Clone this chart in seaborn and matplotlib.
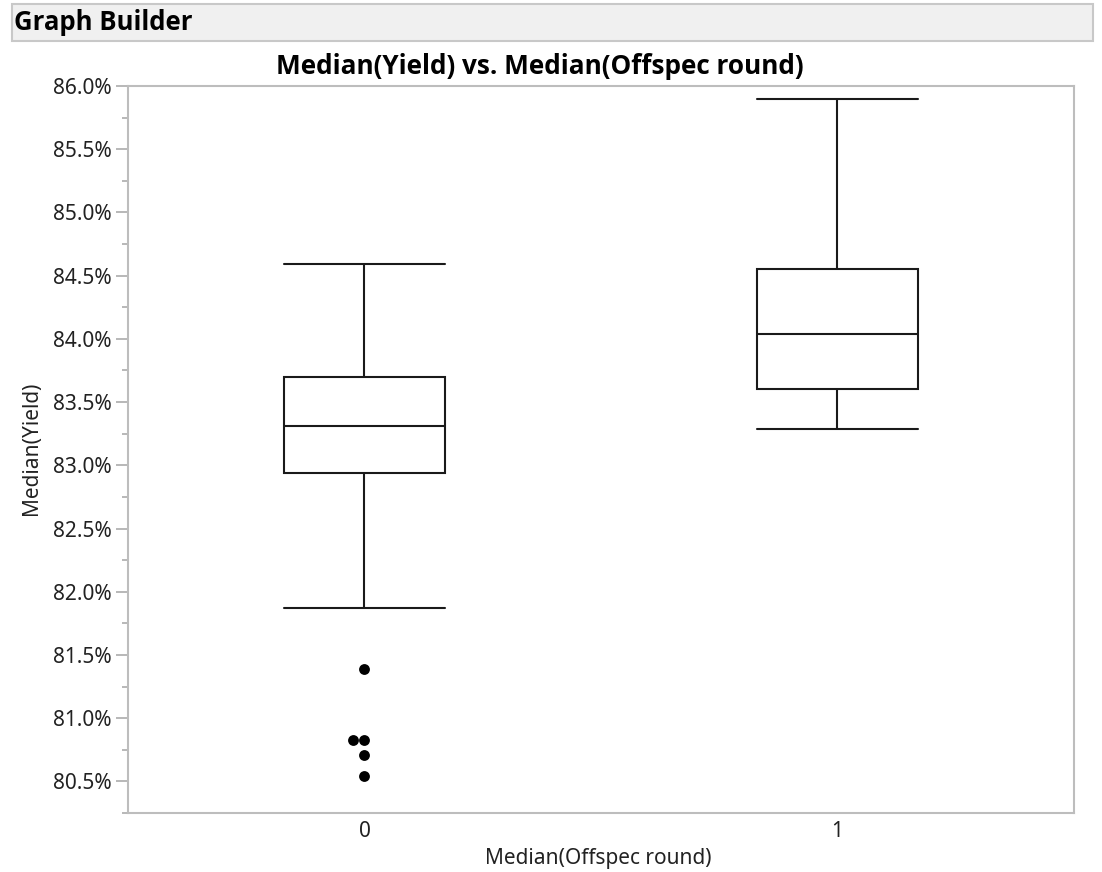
import matplotlib
matplotlib.use("Agg")
import matplotlib.pyplot as plt
from matplotlib.patches import Rectangle
from matplotlib.ticker import MultipleLocator, FuncFormatter
import pandas as pd
import seaborn as sns

# Median(Yield) per run, grouped by Median(Offspec round), in percent
rounds = ["0", "1"]
yield_round0 = [80.54, 80.71, 80.83, 80.83, 81.39, 81.87,
                82.94, 82.99, 83.05, 83.12, 83.19, 83.25,
                83.31, 83.37, 83.43, 83.50, 83.57, 83.64,
                83.70, 83.79, 83.91, 84.06, 84.23, 84.41,
                84.59]
yield_round1 = [83.29, 83.45, 83.60, 83.81, 84.04, 84.30, 84.55, 85.12, 85.90]
outliers_round0 = [80.54, 80.71, 80.83, 80.83, 81.39]

y_ticks = [80.5, 81.0, 81.5, 82.0, 82.5, 83.0, 83.5, 84.0, 84.5, 85.0, 85.5, 86.0]

df = pd.DataFrame({
    "round": [rounds[0]] * len(yield_round0) + [rounds[1]] * len(yield_round1),
    "yield": yield_round0 + yield_round1,
})
df_out = pd.DataFrame({"round": [rounds[0]] * len(outliers_round0),
                       "yield": outliers_round0})

sns.set_style("white")
plt.rcParams["font.family"] = ["Noto Sans", "DejaVu Sans"]
BOLD_FAMILY = ["Open Sans", "Lato", "DejaVu Sans"]

W, H = 1102, 872
fig = plt.figure(figsize=(W / 100, H / 100), dpi=100)

def fx(px):
    return px / W

def fy(py):
    return 1 - py / H

# header bar
fig.patches.append(Rectangle((fx(12), fy(41)), fx(1093) - fx(12), fy(4) - fy(41),
                             transform=fig.transFigure, facecolor="#f0f0f0",
                             edgecolor="#c8c8c8", linewidth=1.5))
fig.text(fx(14), fy(22), "Graph Builder", fontsize=18.5, fontweight="bold",
         family=BOLD_FAMILY, ha="left", va="center", color="#000000")
fig.text(fx(540), fy(66), "Median(Yield) vs. Median(Offspec round)", fontsize=18.8,
         fontweight="bold", family=BOLD_FAMILY, ha="center", va="center",
         color="#000000")

ax = fig.add_axes([fx(128), fy(813), fx(1074) - fx(128), fy(86) - fy(813)])

line_kw = dict(color="#1a1a1a", linewidth=1.5)
sns.boxplot(data=df, x="round", y="yield", order=rounds, ax=ax,
            width=0.34, showfliers=False, whis=1.5,
            boxprops=dict(facecolor="white", edgecolor="#1a1a1a", linewidth=1.5),
            medianprops=line_kw, whiskerprops=line_kw, capprops=line_kw)

# stretch whisker caps to the full box width
for ln in ax.lines:
    xd = list(ln.get_xdata())
    yd = list(ln.get_ydata())
    if len(xd) == 2 and yd[0] == yd[1] and abs(abs(xd[1] - xd[0]) - 0.17) < 1e-6:
        c = (xd[0] + xd[1]) / 2
        ln.set_xdata([c - 0.17, c + 0.17])

sns.swarmplot(data=df_out, x="round", y="yield", order=rounds, ax=ax,
              color="black", size=7.8)

ax.set_xlim(-0.5, 1.5)
ax.set_ylim(80.25, 86.0)
ax.yaxis.set_minor_locator(MultipleLocator(0.25))
ax.set_yticks(y_ticks)
ax.yaxis.set_major_formatter(FuncFormatter(lambda v, p: f"{v:.1f}%"))

ax.tick_params(axis="y", which="major", length=8.6, width=1.4, color="#b8b8b8",
               labelsize=15, labelcolor="#222222", pad=3, left=True)
ax.tick_params(axis="y", which="minor", length=4.3, width=1.4, color="#b8b8b8", left=True)
ax.tick_params(axis="x", length=0, labelsize=15, labelcolor="#222222", pad=6)

for s in ax.spines.values():
    s.set_visible(True)
    s.set_color("#bdbdbd")
    s.set_linewidth(1.5)

ax.set_xlabel("")
ax.set_ylabel("")
fig.text(fx(598), fy(858), "Median(Offspec round)", fontsize=15, ha="center",
         va="center", color="#222222")
fig.text(fx(32), fy(448), "Median(Yield)", fontsize=15, ha="center",
         va="center", rotation=90, color="#222222")

fig.savefig("out.png", dpi=100, facecolor="white")
